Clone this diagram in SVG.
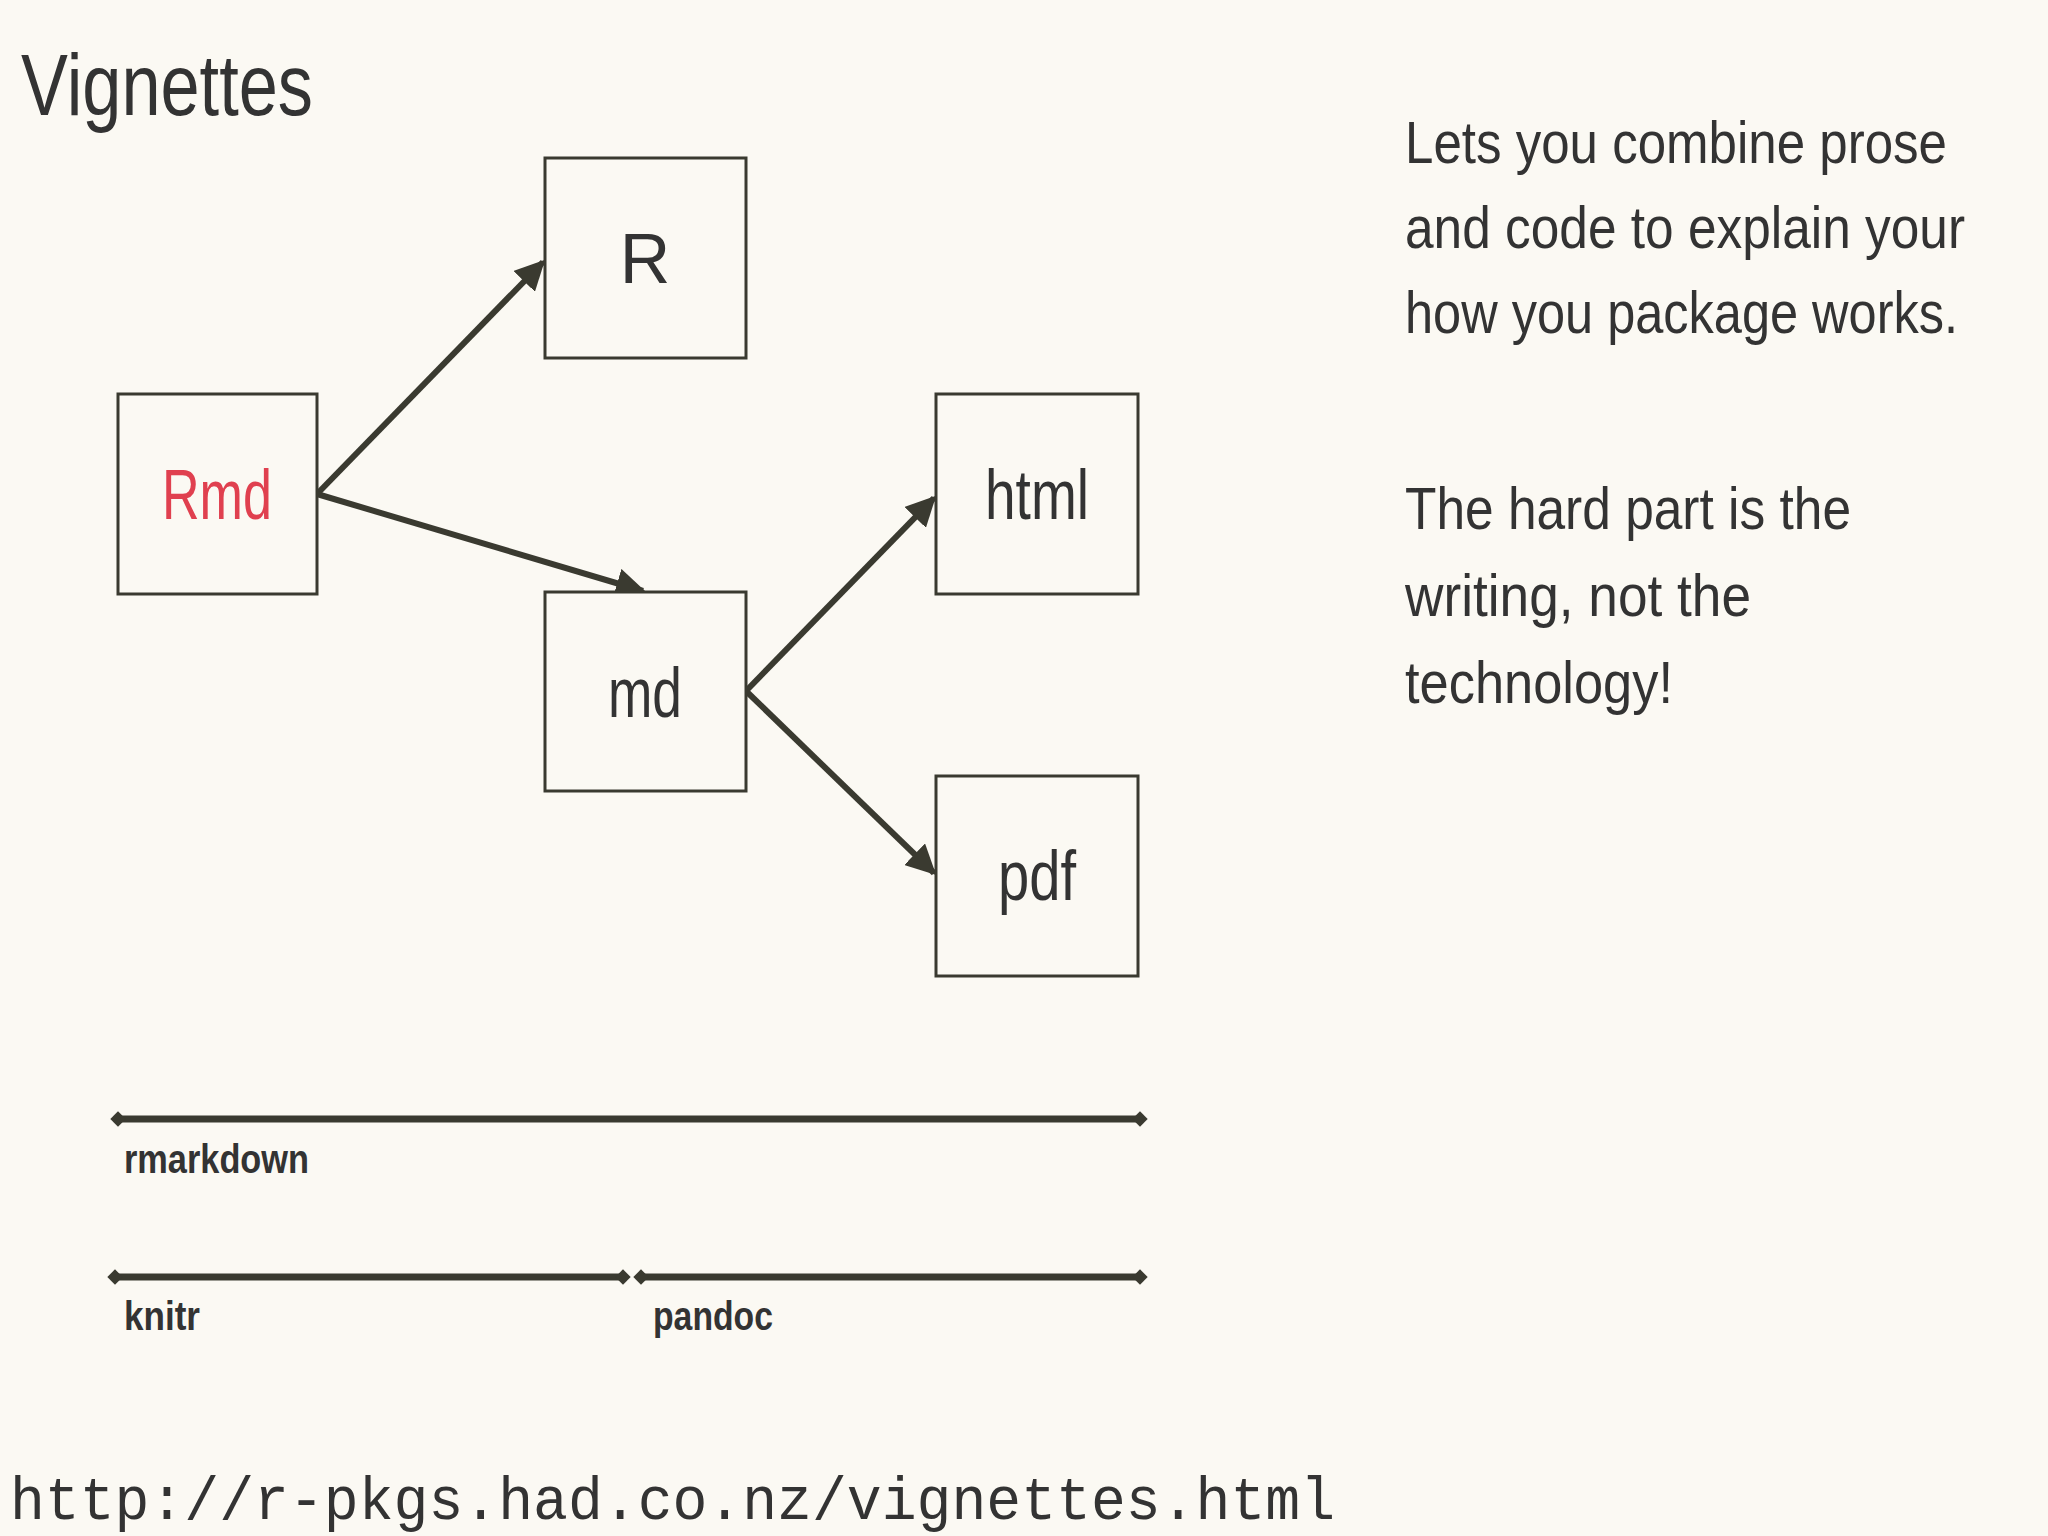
<svg xmlns="http://www.w3.org/2000/svg" width="2048" height="1536" viewBox="0 0 2048 1536">
<defs>
<style>
.box{fill:#fbf9f3;stroke:#3a3a30;stroke-width:3}
.lbl{font-family:"Liberation Sans",sans-serif;font-size:70px;fill:#333;text-anchor:middle}
.txt{font-family:"Liberation Sans",sans-serif;font-size:60px;fill:#333}
.bar{stroke:#3a3a30;stroke-width:7}
.bl{font-family:"Liberation Sans",sans-serif;font-size:40px;font-weight:bold;fill:#333}
.con{stroke:#3a3a30;stroke-width:6;fill:none;marker-end:url(#ah)}
</style>
<marker id="ah" viewBox="0 0 10 10" refX="9" refY="5" markerWidth="5" markerHeight="5" orient="auto" markerUnits="strokeWidth"><path d="M0,0L10,5L0,10z" fill="#3a3a30"/></marker>
<marker id="dm" viewBox="0 0 10 10" refX="5" refY="5" markerWidth="2.2" markerHeight="2.8" orient="auto" markerUnits="strokeWidth"><path d="M0,5L5,0L10,5L5,10z" fill="#3a3a30"/></marker>
</defs>
<rect width="2048" height="1536" fill="#fbf9f3"/>
<text x="21" y="115" font-family="Liberation Sans,sans-serif" font-size="88" fill="#333" textLength="292" lengthAdjust="spacingAndGlyphs">Vignettes</text>
<g id="connectors">
<line class="con" x1="317" y1="494" x2="543" y2="262"/>
<line class="con" x1="317" y1="494" x2="643" y2="591"/>
<line class="con" x1="746" y1="691" x2="934" y2="498"/>
<line class="con" x1="746" y1="691" x2="934" y2="873"/>
</g>
<g id="R"><rect class="box" x="545" y="158" width="201" height="200"/><text class="lbl" x="645" y="283">R</text></g>
<g id="Rmd"><rect class="box" x="118" y="394" width="199" height="200"/><text class="lbl" x="217" y="519" fill="#e0404f" style="fill:#e0404f" textLength="110" lengthAdjust="spacingAndGlyphs">Rmd</text></g>
<g id="md"><rect class="box" x="545" y="592" width="201" height="199"/><text class="lbl" x="645" y="717" textLength="74" lengthAdjust="spacingAndGlyphs">md</text></g>
<g id="html"><rect class="box" x="936" y="394" width="202" height="200"/><text class="lbl" x="1037" y="519" textLength="104" lengthAdjust="spacingAndGlyphs">html</text></g>
<g id="pdf"><rect class="box" x="936" y="776" width="202" height="200"/><text class="lbl" x="1037" y="900" textLength="78" lengthAdjust="spacingAndGlyphs">pdf</text></g>
<g id="bars">
<line class="bar" x1="118" y1="1119" x2="1140" y2="1119" marker-start="url(#dm)" marker-end="url(#dm)"/>
<line class="bar" x1="115" y1="1277" x2="623" y2="1277" marker-start="url(#dm)" marker-end="url(#dm)"/>
<line class="bar" x1="641" y1="1277" x2="1140" y2="1277" marker-start="url(#dm)" marker-end="url(#dm)"/>
<text class="bl" x="124" y="1173" textLength="185" lengthAdjust="spacingAndGlyphs">rmarkdown</text>
<text class="bl" x="124" y="1330" textLength="76" lengthAdjust="spacingAndGlyphs">knitr</text>
<text class="bl" x="653" y="1330" textLength="120" lengthAdjust="spacingAndGlyphs">pandoc</text>
</g>
<g id="notes">
<text class="txt" x="1405" y="163" textLength="542" lengthAdjust="spacingAndGlyphs">Lets you combine prose</text>
<text class="txt" x="1405" y="248" textLength="560" lengthAdjust="spacingAndGlyphs">and code to explain your</text>
<text class="txt" x="1405" y="333" textLength="553" lengthAdjust="spacingAndGlyphs">how you package works.</text>
<text class="txt" x="1405" y="529" textLength="446" lengthAdjust="spacingAndGlyphs">The hard part is the</text>
<text class="txt" x="1405" y="616" textLength="346" lengthAdjust="spacingAndGlyphs">writing, not the</text>
<text class="txt" x="1405" y="703" textLength="268" lengthAdjust="spacingAndGlyphs">technology!</text>
</g>
<text x="10" y="1519" font-family="Liberation Mono,monospace" font-size="61" fill="#333" textLength="1325" lengthAdjust="spacingAndGlyphs">http://r-pkgs.had.co.nz/vignettes.html</text>
</svg>
